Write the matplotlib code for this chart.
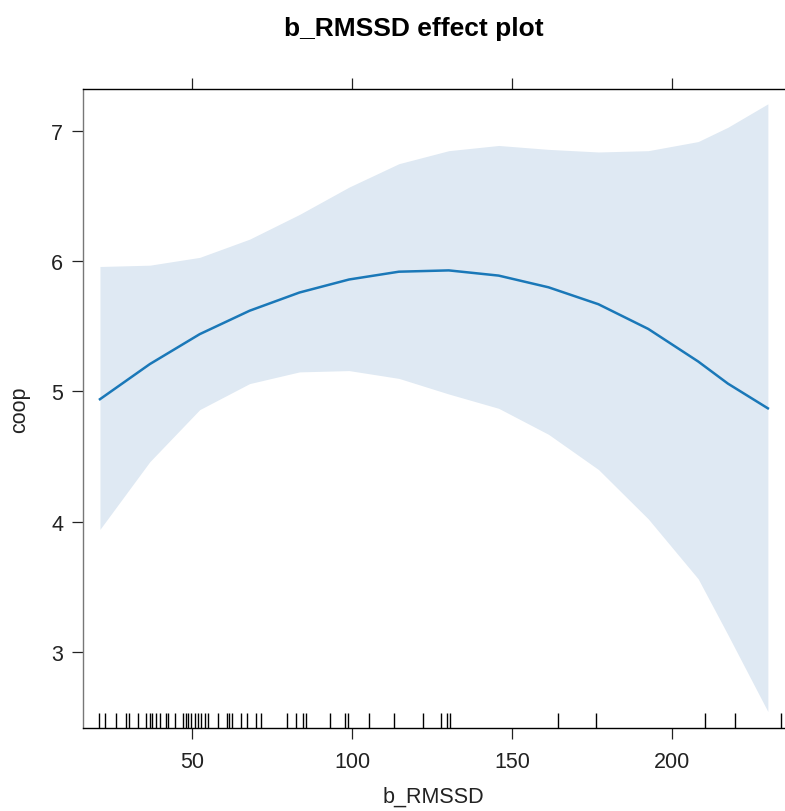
import matplotlib
matplotlib.use("Agg")
import matplotlib.pyplot as plt
import matplotlib.transforms as mtransforms
import numpy as np

plt.rcParams["font.family"] = ["Liberation Sans", "DejaVu Sans"]

# effect curve and confidence band
b_rmssd = [21.1, 36.7, 52.3, 67.9, 83.5, 99.0, 114.6, 130.2, 145.8,
           161.4, 177.0, 192.6, 208.2, 217.5, 230.0]
coop_fit = [4.94, 5.21, 5.44, 5.62, 5.76, 5.86, 5.92, 5.93, 5.89,
            5.80, 5.67, 5.48, 5.23, 5.06, 4.87]
coop_upper = [5.96, 5.97, 6.03, 6.17, 6.36, 6.57, 6.75, 6.85, 6.89,
              6.86, 6.84, 6.85, 6.92, 7.03, 7.21]
coop_lower = [3.94, 4.46, 4.86, 5.06, 5.15, 5.16, 5.10, 4.98, 4.87,
              4.67, 4.40, 4.02, 3.56, 3.13, 2.54]

# observed b_RMSSD values (rug)
rug_x = [20.9, 22.7, 26.1, 29.2, 30.2, 33.0, 35.4, 36.7, 37.5, 38.6,
         39.8, 41.7, 42.4, 44.5, 47.1, 47.9, 48.7, 49.7, 50.7, 51.7,
         52.8, 53.8, 54.9, 58.0, 60.9, 61.6, 62.5, 65.3, 67.1, 70.0,
         71.5, 79.5, 82.4, 84.7, 85.5, 93.0, 97.8, 98.6, 105.3, 113.1,
         122.1, 127.9, 129.7, 130.7, 164.5, 176.1, 210.2, 219.6, 234.1]

x_ticks = [50, 100, 150, 200]
y_ticks = [3, 4, 5, 6, 7]

fig = plt.figure(figsize=(7.85, 8.12), dpi=100)
# right edge of the panel falls just outside the picture, as in the reference
ax = fig.add_axes([82.7 / 785, 1 - 729.3 / 812, (797.6 - 82.7) / 785, (729.3 - 90) / 812])

ax.fill_between(b_rmssd, coop_lower, coop_upper, color="#dfe9f3", lw=0)
ax.plot(b_rmssd, coop_fit, color="#1a78b8", lw=1.8)

trans = mtransforms.blended_transform_factory(ax.transData, ax.transAxes)
ax.vlines(rug_x, 0.0, 0.024, transform=trans, color="black", lw=1.0)

ax.set_xlim(15.7, 239.3)
ax.set_ylim(2.411, 7.324)
ax.set_xticks(x_ticks)
ax.set_yticks(y_ticks)

for s in ax.spines.values():
    s.set_linewidth(1.0)
    s.set_color("black")
ax.spines["left"].set_color("#777777")

ax.tick_params(axis="x", which="both", direction="out", length=8, width=0.9,
               top=True, labeltop=False, labelsize=15.5, pad=8, colors="#222222")
ax.tick_params(axis="y", which="both", direction="out", length=8, width=0.9,
               right=False, labelsize=15.5, pad=6, colors="#222222")

fig.text(433 / 785, 1 - 797 / 812, "b_RMSSD", ha="center", va="center",
         fontsize=15.5, color="#222222")
fig.text(20 / 785, 1 - 410 / 812, "coop", ha="center", va="center",
         rotation=90, fontsize=15.5, color="#222222")
fig.text(414 / 785, 1 - 29 / 812, "b_RMSSD effect plot", ha="center",
         va="center", fontsize=19, fontweight="bold", color="black")

fig.savefig("out.png", dpi=100)
